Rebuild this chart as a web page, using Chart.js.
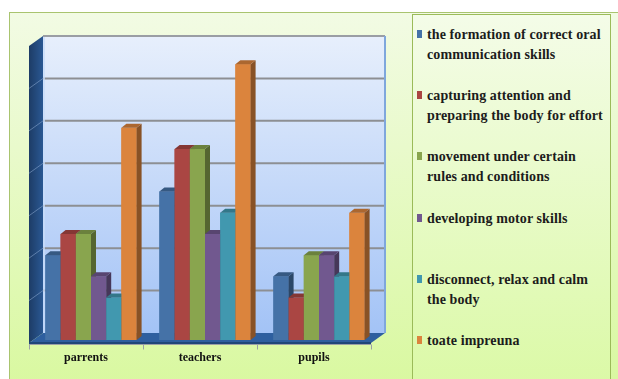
<!DOCTYPE html>
<html>
<head>
<meta charset="utf-8">
<title>Activities</title>
<script src="https://cdn.jsdelivr.net/npm/chart.js@4.4.1/dist/chart.umd.min.js"></script>
<style>
  html, body { margin: 0; padding: 0; background: #fff; }
  #wrap { position: relative; width: 618px; height: 379px; overflow: hidden; }
  #panel {
    position: absolute; left: 9px; top: 12px; width: 640px; height: 400px;
    border: 1px solid #a9c46f;
    background: linear-gradient(#f2fbe4, #d7f89b);
  }
  #chart { position: absolute; left: 0; top: 0; }
  #legend {
    position: absolute; left: 412px; top: 14px; width: 197px; height: 400px;
    border: 1px solid #9bbb59;
    background: linear-gradient(#f4fce8, #d9f9a1);
    font-family: "Liberation Serif", "Times New Roman", serif;
    font-weight: bold;
    font-size: 14px;
    letter-spacing: 0.1px;
    color: #1c1c1c;
  }
  .item { position: absolute; left: 4px; width: 192px; line-height: 20px; }
  .sw { position: absolute; left: 0; top: 5px; width: 5px; height: 8px; }
  .txt { margin-left: 10px; white-space: nowrap; }
</style>
</head>
<body>
<div id="wrap">
  <div id="panel"></div>
  <canvas id="chart" width="618" height="379"></canvas>
  <div id="legend"></div>
</div>
<script>
// categories and series (values in grid units, 0..7)
const categories = ['parrents', 'teachers', 'pupils'];
const seriesNames = [
  ['the formation of correct oral', 'communication skills'],
  ['capturing attention and', 'preparing the body for effort'],
  ['movement under certain', 'rules and conditions'],
  ['developing motor skills'],
  ['disconnect, relax and calm', 'the body'],
  ['toate impreuna']
];
const seriesColors = ['#4572A7', '#AA4643', '#89A54E', '#71588F', '#4198AF', '#DB843D'];
const oralSkills    = [2.0, 3.5, 1.5];
const attention     = [2.5, 4.5, 1.0];
const movementRules = [2.5, 4.5, 2.0];
const motorSkills   = [1.5, 2.5, 2.0];
const relaxCalm     = [1.0, 3.0, 1.5];
const together      = [5.0, 6.5, 3.0];
const yMax = 7;
const yStep = 1;

const seriesValues = [oralSkills, attention, movementRules, motorSkills, relaxCalm, together];

// depth offsets for the walls / bars
const BACK = { dx: 9, dy: -7 };
const FRONT = { dx: -5, dy: 3 };
const BAR_DEPTH = { dx: 5, dy: -4 };

function shade(hex, f) {
  const n = parseInt(hex.slice(1), 16);
  const r = Math.round(((n >> 16) & 255) * f);
  const g = Math.round(((n >> 8) & 255) * f);
  const b = Math.round((n & 255) * f);
  return 'rgb(' + r + ',' + g + ',' + b + ')';
}

function poly(ctx, pts, fill) {
  ctx.beginPath();
  ctx.moveTo(pts[0][0], pts[0][1]);
  for (let i = 1; i < pts.length; i++) ctx.lineTo(pts[i][0], pts[i][1]);
  ctx.closePath();
  ctx.fillStyle = fill;
  ctx.fill();
}

const walls3d = {
  id: 'walls3d',
  beforeDatasetsDraw(chart) {
    const { ctx, chartArea: a, scales: { x, y } } = chart;
    ctx.save();

    // back wall
    const bl = a.left + BACK.dx, br = a.right + BACK.dx;
    const bt = a.top + BACK.dy, bb = a.bottom + BACK.dy;
    const g = ctx.createLinearGradient(0, bt, 0, bb);
    g.addColorStop(0, '#e7effc');
    g.addColorStop(1, '#a3c3f6');
    ctx.fillStyle = g;
    ctx.fillRect(bl, bt, br - bl, bb - bt);

    // left wall
    const lw = ctx.createLinearGradient(a.left + FRONT.dx, 0, bl, 0);
    lw.addColorStop(0, '#1d3c66');
    lw.addColorStop(1, '#2a5893');
    poly(ctx, [
      [a.left + FRONT.dx, a.top + FRONT.dy],
      [bl, bt],
      [bl, bb],
      [a.left + FRONT.dx, a.bottom + FRONT.dy]
    ], lw);

    // gridlines on the back wall and their traces on the left wall
    for (let v = yStep; v < yMax; v += yStep) {
      const py = y.getPixelForValue(v);
      ctx.strokeStyle = '#8d8f93';
      ctx.lineWidth = 2;
      ctx.beginPath();
      ctx.moveTo(bl, py + BACK.dy);
      ctx.lineTo(br, py + BACK.dy);
      ctx.stroke();
      ctx.strokeStyle = 'rgba(140,170,210,0.55)';
      ctx.lineWidth = 1;
      ctx.beginPath();
      ctx.moveTo(a.left + FRONT.dx, py + FRONT.dy);
      ctx.lineTo(bl, py + BACK.dy);
      ctx.stroke();
    }

    // wall borders
    ctx.strokeStyle = '#9a9ea4';
    ctx.lineWidth = 2;
    ctx.beginPath();
    ctx.moveTo(bl, bt);
    ctx.lineTo(br, bt);
    ctx.stroke();
    ctx.strokeStyle = '#7fa7dc';
    ctx.beginPath();
    ctx.moveTo(br, bt);
    ctx.lineTo(br, bb);
    ctx.stroke();
    ctx.strokeStyle = '#c8dcfa';
    ctx.lineWidth = 1.5;
    ctx.beginPath();
    ctx.moveTo(bl + 1, bt + 1);
    ctx.lineTo(bl + 1, bb);
    ctx.stroke();

    // floor
    poly(ctx, [
      [a.left + FRONT.dx, a.bottom + FRONT.dy],
      [bl, bb],
      [br, bb],
      [a.right + FRONT.dx, a.bottom + FRONT.dy]
    ], '#2e5f9f');
    ctx.fillStyle = '#1f4679';
    ctx.fillRect(a.left + FRONT.dx, a.bottom + FRONT.dy - 1, a.width, 2);

    // category axis in the front plane
    ctx.strokeStyle = '#9aa0a6';
    ctx.lineWidth = 1;
    const ay = a.bottom + FRONT.dy + 1.5;
    ctx.beginPath();
    ctx.moveTo(a.left + FRONT.dx, ay);
    ctx.lineTo(a.right + FRONT.dx, ay);
    const step = a.width / categories.length;
    for (let i = 0; i <= categories.length; i++) {
      const tx = Math.round(a.left + FRONT.dx + i * step) + 0.5;
      ctx.moveTo(tx, ay);
      ctx.lineTo(tx, ay + 5);
    }
    ctx.stroke();

    ctx.fillStyle = '#111';
    ctx.font = 'bold 12px "Liberation Serif", "Times New Roman", serif';
    ctx.textAlign = 'center';
    ctx.textBaseline = 'middle';
    categories.forEach((c, i) => {
      ctx.fillText(c, x.getPixelForValue(i) + FRONT.dx, a.bottom + 18);
    });
    ctx.restore();
  },
  afterDatasetsDraw(chart) {
    const { ctx } = chart;
    const bars = [];
    chart.data.datasets.forEach((ds, di) => {
      chart.getDatasetMeta(di).data.forEach(el => {
        const p = el.getProps(['x', 'y', 'base', 'width'], true);
        bars.push({ left: p.x - p.width / 2, right: p.x + p.width / 2, top: p.y, base: p.base, color: ds.backgroundColor });
      });
    });
    bars.sort((m, n) => m.left - n.left);
    ctx.save();
    const d = BAR_DEPTH;
    bars.forEach(b => {
      ctx.fillStyle = b.color;
      ctx.fillRect(b.left, b.top, b.right - b.left, b.base - b.top);
      poly(ctx, [
        [b.right, b.top], [b.right + d.dx, b.top + d.dy],
        [b.right + d.dx, b.base + d.dy], [b.right, b.base]
      ], shade(b.color, 0.62));
      poly(ctx, [
        [b.left, b.top], [b.left + d.dx, b.top + d.dy],
        [b.right + d.dx, b.top + d.dy], [b.right, b.top]
      ], shade(b.color, 0.78));
    });
    ctx.restore();
  }
};

new Chart(document.getElementById('chart'), {
  type: 'bar',
  data: {
    labels: categories,
    datasets: seriesValues.map((vals, i) => ({
      label: seriesNames[i].join(' '),
      data: vals,
      backgroundColor: seriesColors[i],
      borderWidth: 0
    }))
  },
  options: {
    responsive: false,
    animation: false,
    layout: { padding: { left: 34, right: 242, top: 43, bottom: 39 } },
    datasets: { bar: { categoryPercentage: 0.8, barPercentage: 1 } },
    plugins: { legend: { display: false }, tooltip: { enabled: false } },
    scales: {
      x: { display: false },
      y: { display: false, min: 0, max: yMax, ticks: { stepSize: yStep } }
    }
  },
  plugins: [walls3d]
});

// legend box on the right
const legend = document.getElementById('legend');
seriesNames.forEach((lines, i) => {
  const item = document.createElement('div');
  item.className = 'item';
  item.style.top = (10 + i * 61.2) + 'px';
  const sw = document.createElement('span');
  sw.className = 'sw';
  sw.style.background = seriesColors[i];
  const txt = document.createElement('div');
  txt.className = 'txt';
  txt.innerHTML = lines.join('<br>');
  item.appendChild(sw);
  item.appendChild(txt);
  legend.appendChild(item);
});
</script>
</body>
</html>
